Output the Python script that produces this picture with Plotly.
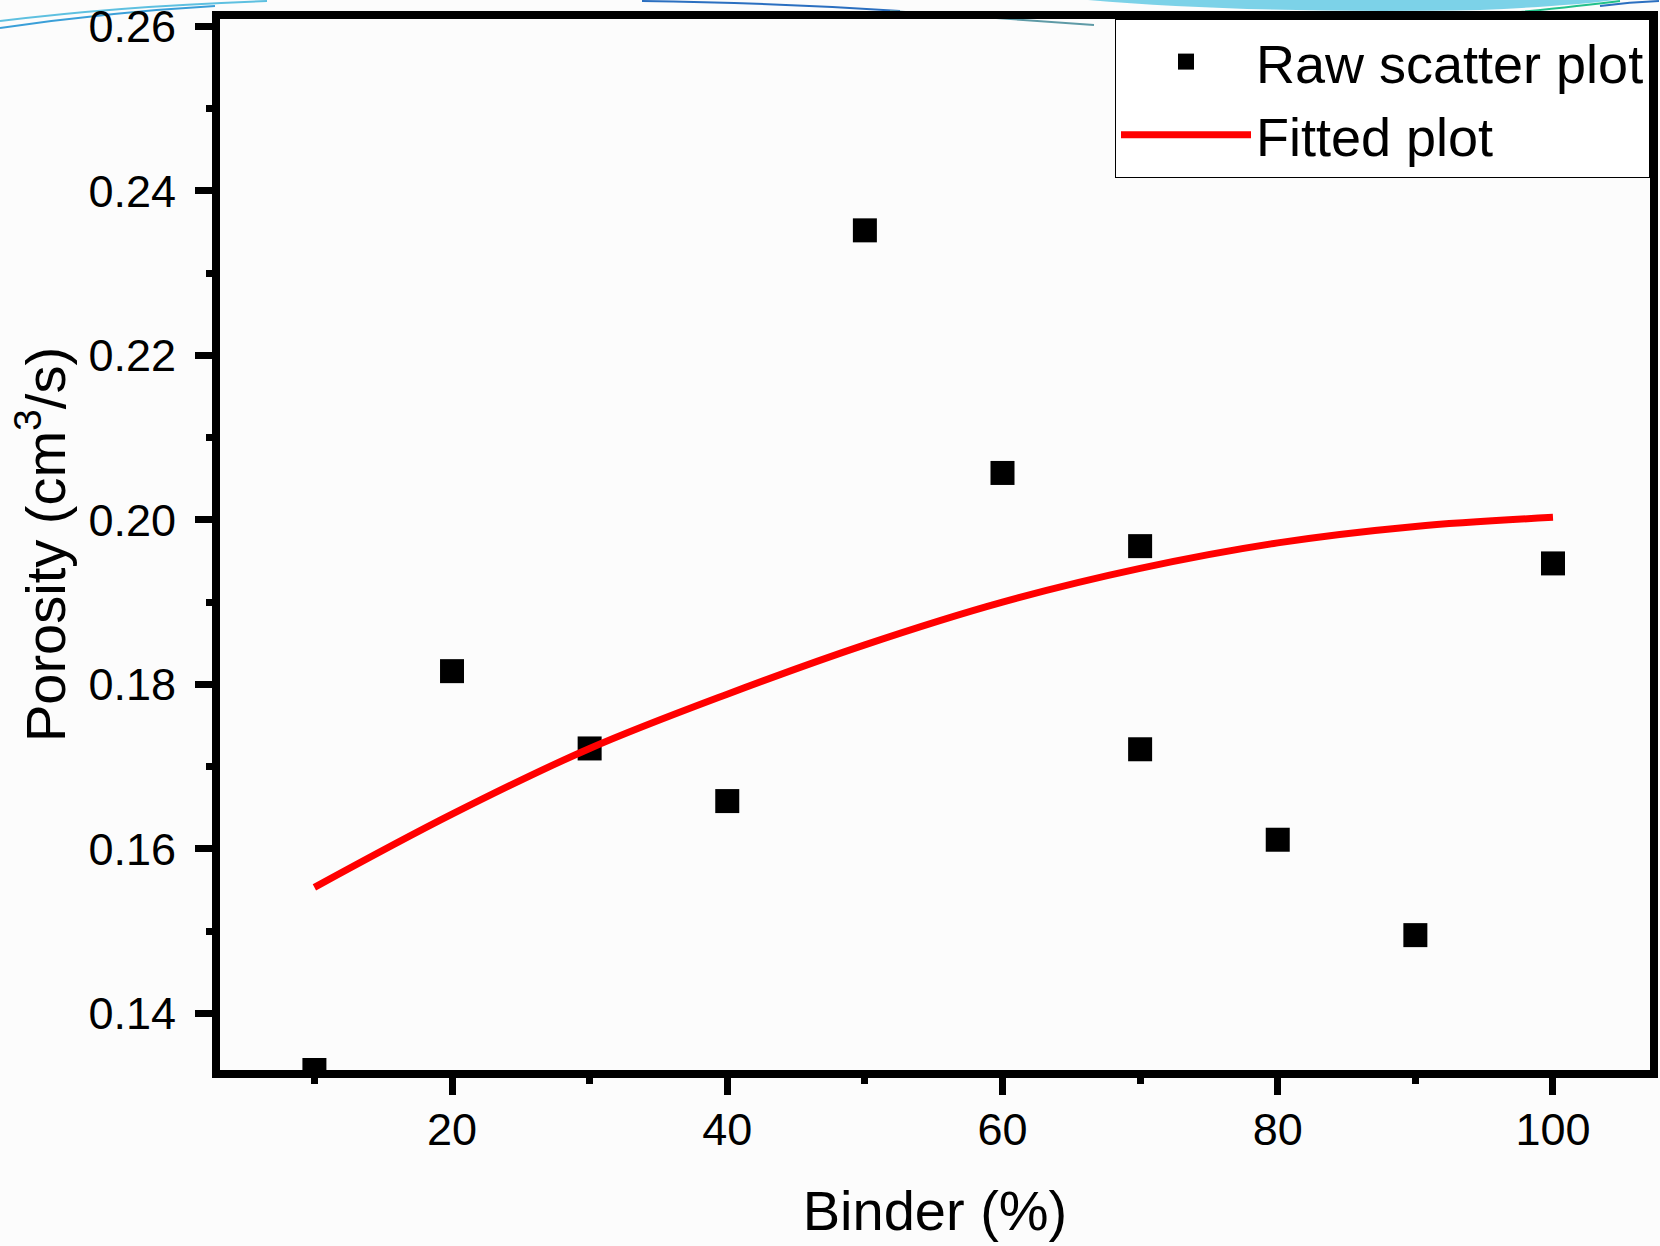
import plotly.graph_objects as go

# data
binder = [10, 20, 30, 40, 50, 60, 70, 70, 80, 90, 100]
porosity = [0.1331, 0.1816, 0.1722, 0.1658, 0.2352, 0.2057, 0.1968, 0.1721, 0.1611, 0.1495, 0.1947]

fit_x = [10, 20, 30, 40, 50, 60, 70, 80, 90, 100]
fit_y = [0.1553, 0.1642, 0.1722, 0.1788, 0.1848, 0.1900, 0.1941, 0.1972, 0.1992, 0.2003]

x_ticks = [20, 40, 60, 80, 100]
y_ticks = [0.14, 0.16, 0.18, 0.20, 0.22, 0.24, 0.26]

FONT = "Liberation Sans, Arial, sans-serif"
W, H = 1660, 1246

fig = go.Figure()

fig.add_trace(go.Scatter(
    x=binder, y=porosity, mode="markers", name="Raw scatter plot",
    marker=dict(symbol="square", size=24, color="black"),
))
fig.add_trace(go.Scatter(
    x=fit_x, y=fit_y, mode="lines", name="Fitted plot",
    line=dict(color="#ff0000", width=7, shape="spline", smoothing=1.0),
))

# plot area in pixels
L, R, T, B = 220, 1650, 19, 1070
def px(x):
    return round((x - L) / (R - L), 5)
def py(y):
    return round((B - y) / (B - T), 5)

def curve(pts):
    (x0, y0), (x1, y1), (x2, y2) = pts
    return f"M{px(x0)},{py(y0)} Q{px(x1)},{py(y1)} {px(x2)},{py(y2)}"

# slide decoration round the top edge
deco = [
    ([(0, 21), (120, 6), (267, 1)], "#5ec0e0", 2),
    ([(0, 28), (110, 12), (215, 6)], "#3a9fd8", 2),
    ([(642, 1), (780, 3), (900, 11)], "#2b6fc0", 2),
    ([(890, 11), (1000, 18), (1094, 25)], "#5e9aa6", 2),
    ([(1520, 12), (1580, 6), (1620, 1)], "#21c08a", 2),
    ([(1600, 6), (1630, 2), (1659, 1)], "#2b6fc0", 2),
]
shapes = []
# cyan wash at top right
shapes.append(dict(type="path", xref="paper", yref="paper",
                   path=f"M{px(1088)},{py(0)} Q{px(1250)},{py(14)} {px(1480)},{py(10)} "
                        f"Q{px(1570)},{py(6)} {px(1615)},{py(0)} Z",
                   fillcolor="rgba(110,205,230,0.9)", line=dict(width=0), layer="below"))
for pts, col, w in deco:
    shapes.append(dict(type="path", xref="paper", yref="paper", path=curve(pts),
                       line=dict(color=col, width=w), layer="below"))

fig.update_layout(
    width=W, height=H,
    margin=dict(l=L, r=W - R, t=T, b=H - B),
    paper_bgcolor="#fcfcfc", plot_bgcolor="rgba(0,0,0,0)",
    font=dict(family=FONT, color="black", size=45),
    shapes=shapes,
    showlegend=True,
    legend=dict(
        x=1, y=1, xanchor="right", yanchor="top",
        bgcolor="white", bordercolor="black", borderwidth=1,
        font=dict(size=54, family=FONT), itemwidth=130,
        tracegroupgap=0,
    ),
    xaxis=dict(
        range=[3.14, 107.05], tickvals=x_ticks, automargin=False,
        showgrid=False, zeroline=False,
        showline=True, linecolor="black", linewidth=8, mirror=True,
        ticks="outside", ticklen=17, tickwidth=7, tickcolor="black",
        minor=dict(dtick=10, tick0=0, ticks="outside", ticklen=6, tickwidth=7, tickcolor="black"),
        tickfont=dict(size=45), ticklabelstandoff=-4, ticklabeloverflow="allow",
        title=dict(text="Binder (%)", font=dict(size=56), standoff=40),
    ),
    yaxis=dict(
        range=[0.1331, 0.2609], tickvals=y_ticks, tickformat=".2f", automargin=False,
        showgrid=False, zeroline=False,
        showline=True, linecolor="black", linewidth=8, mirror=True,
        ticks="outside", ticklen=17, tickwidth=7, tickcolor="black",
        minor=dict(dtick=0.01, tick0=0, ticks="outside", ticklen=6, tickwidth=7, tickcolor="black"),
        tickfont=dict(size=45), ticklabelstandoff=10, ticklabeloverflow="allow",
        title=dict(text="Porosity (cm<sup>3</sup>/s)", font=dict(size=56), standoff=8),
    ),
)

# drop the default page margin and scrollbars so the figure sits at the window's corner
fig.write_html("out.html", config={"displayModeBar": False},
               post_script="document.body.style.margin='0';"
                           "document.body.style.overflow='hidden';")
